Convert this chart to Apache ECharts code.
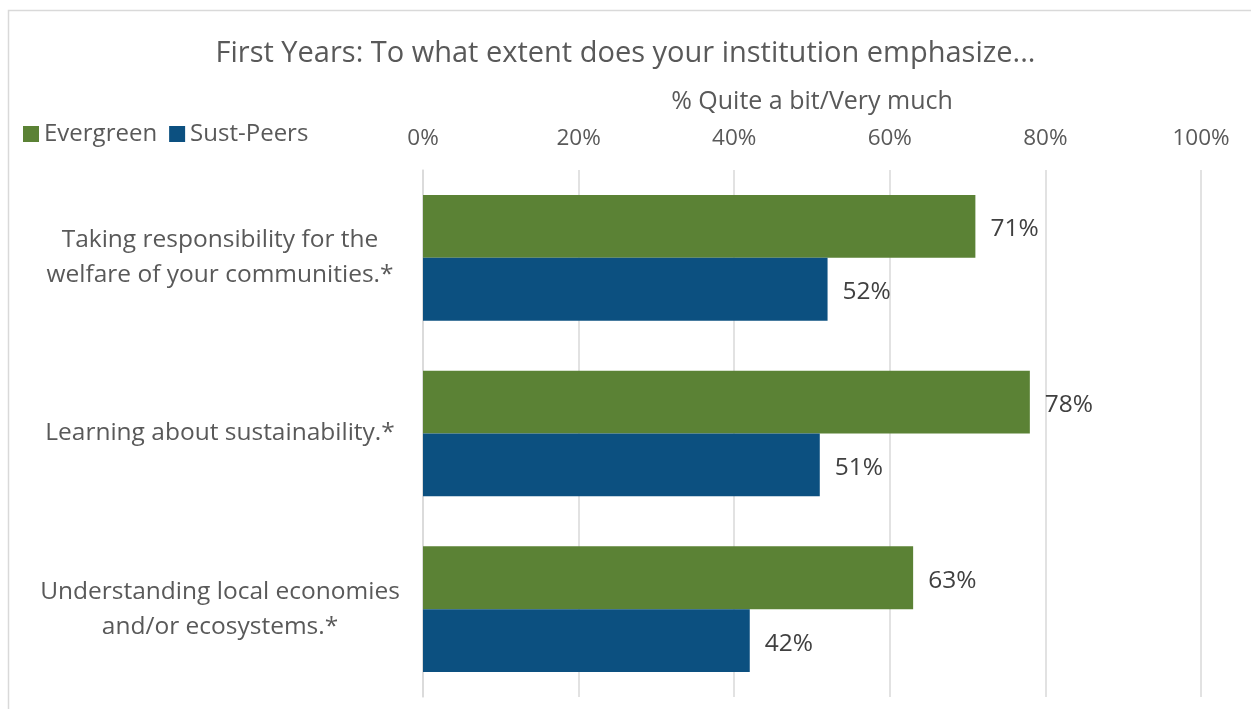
<!DOCTYPE html>
<html><head><meta charset="utf-8">
<script src="https://cdn.jsdelivr.net/npm/echarts@6/dist/echarts.min.js"></script>
<style>html,body{margin:0;padding:0;background:#fff;}#c{width:1251px;height:709px;}</style>
</head><body><div id="c"></div>
<script>
const categories = ['Taking responsibility for the\nwelfare of your communities.*', 'Learning about sustainability.*', 'Understanding local economies\nand/or ecosystems.*'];
const evergreen = [71, 78, 63];
const sustPeers = [52, 51, 42];
const tickValues = [0, 20, 40, 60, 80, 100];
const FONT = '"Open Sans", sans-serif';
const chart = echarts.init(document.getElementById('c'), null, {renderer: 'canvas'});
chart.setOption({
  animation: false,
  textStyle: {fontFamily: FONT},
  graphic: [{type: 'rect', shape: {x: 8.5, y: 10.5, width: 1300, height: 800}, style: {fill: 'none', stroke: '#d9d9d9', lineWidth: 1.5}, silent: true}],
  title: {text: 'First Years: To what extent does your institution emphasize...', left: 'center', top: 34,
    textStyle: {fontFamily: FONT, fontSize: 29, fontWeight: 'normal', color: '#595959'}},
  legend: {left: 18, top: 117, itemWidth: 16, itemHeight: 16, itemGap: 12, icon: 'rect',
    textStyle: {fontFamily: FONT, fontSize: 24, color: '#595959', padding: [0, 0, 0, 0]}},
  grid: {left: 423, right: 50, top: 170, bottom: 12, containLabel: false},
  xAxis: {type: 'value', position: 'top', min: 0, max: 100, interval: 20,
    name: '% Quite a bit/Very much', nameLocation: 'middle', nameGap: 56,
    nameTextStyle: {fontFamily: FONT, fontSize: 25, color: '#595959'},
    axisLine: {show: false}, axisTick: {show: false},
    axisLabel: {formatter: v => tickValues.includes(v) ? v + '%' : '', fontFamily: FONT, fontSize: 22.5, color: '#595959', margin: 20},
    splitLine: {show: true, lineStyle: {color: '#d9d9d9', width: 1.5}}},
  yAxis: {type: 'category', data: categories, inverse: true,
    axisLine: {show: true, lineStyle: {color: '#d9d9d9', width: 1.5}}, axisTick: {show: false},
    axisLabel: {align: 'center', margin: 203, fontFamily: FONT, fontSize: 24.5, lineHeight: 35, color: '#595959', padding: [5, 0, 0, 0]}},
  series: [
    {name: 'Evergreen', type: 'bar', data: evergreen, barGap: '0%', barCategoryGap: '28.5%',
      itemStyle: {color: '#5b8235'},
      label: {show: true, position: 'right', distance: 15, offset: [0, 3], formatter: '{c}%', fontFamily: FONT, fontSize: 24.5, color: '#404040'}},
    {name: 'Sust-Peers', type: 'bar', data: sustPeers, barGap: '0%', barCategoryGap: '28.5%',
      itemStyle: {color: '#0c5080'},
      label: {show: true, position: 'right', distance: 15, offset: [0, 3], formatter: '{c}%', fontFamily: FONT, fontSize: 24.5, color: '#404040'}}
  ]
});
</script></body></html>
